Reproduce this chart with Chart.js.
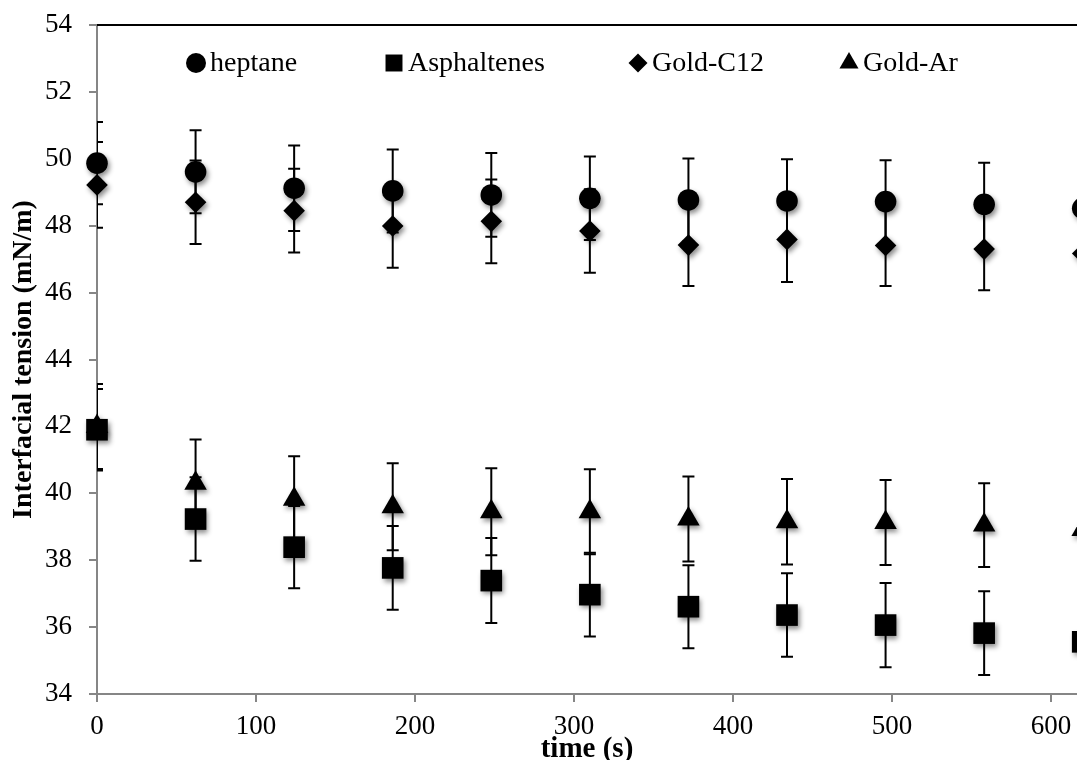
<!DOCTYPE html>
<html>
<head>
<meta charset="utf-8">
<script src="https://cdn.jsdelivr.net/npm/chart.js@4/dist/chart.umd.min.js"></script>
<style>
  html, body { margin: 0; padding: 0; background: #fff; overflow: hidden; }
</style>
</head>
<body>
<canvas id="iftChart" width="1077" height="760"></canvas>
<script>
// time points (s)
const times = [0, 62, 124, 186, 248, 310, 372, 434, 496, 558, 620];

// interfacial tension (mN/m) and standard deviations
const heptane = [49.87, 49.61, 49.12, 49.04, 48.92, 48.82, 48.77, 48.74, 48.72, 48.64, 48.52];
const heptaneErr = [1.23, 1.24, 1.28, 1.24, 1.25, 1.25, 1.24, 1.25, 1.24, 1.24, 1.24];

const asphaltenes = [41.9, 39.23, 38.39, 37.77, 37.39, 36.97, 36.61, 36.36, 36.06, 35.82, 35.56];
const asphaltenesErr = [1.22, 1.25, 1.23, 1.25, 1.27, 1.25, 1.24, 1.25, 1.26, 1.25, 1.25];

const goldC12 = [49.22, 48.70, 48.45, 47.99, 48.13, 47.84, 47.42, 47.59, 47.41, 47.30, 47.17];
const goldC12Err = [1.28, 1.25, 1.25, 1.25, 1.25, 1.25, 1.22, 1.27, 1.21, 1.23, 1.23];

const goldAr = [42.0, 40.30, 39.82, 39.60, 39.45, 39.45, 39.23, 39.15, 39.13, 39.05, 38.92];
const goldArErr = [1.27, 1.31, 1.29, 1.30, 1.30, 1.27, 1.27, 1.28, 1.27, 1.25, 1.25];

const seriesLabels = ['heptane', 'Asphaltenes', 'Gold-C12', 'Gold-Ar'];
const yTicks = [34, 36, 38, 40, 42, 44, 46, 48, 50, 52, 54];

const FONT = "'Liberation Serif', 'Times New Roman', serif";
const AXIS_GREY = '#868686';

const toPoints = vals => times.map((t, i) => ({ x: t, y: vals[i] }));

// error bars, drawn under the markers
const errorBars = {
    id: 'errorBars',
    beforeDatasetsDraw(chart) {
        const { ctx, chartArea, scales: { x, y } } = chart;
        ctx.save();
        ctx.beginPath();
        ctx.rect(chartArea.left, 0, chartArea.right - chartArea.left - 2, chart.height);
        ctx.clip();
        ctx.strokeStyle = '#000';
        ctx.lineWidth = 2;
        chart.data.datasets.forEach(ds => {
            ds.data.forEach((p, i) => {
                const e = ds.errors[i];
                const px = x.getPixelForValue(p.x);
                const top = y.getPixelForValue(p.y + e);
                const bot = y.getPixelForValue(p.y - e);
                ctx.beginPath();
                ctx.moveTo(px, top); ctx.lineTo(px, bot);
                ctx.moveTo(px - 6, top); ctx.lineTo(px + 6, top);
                ctx.moveTo(px - 6, bot); ctx.lineTo(px + 6, bot);
                ctx.stroke();
            });
        });
        ctx.restore();

        // soft drop shadow on the markers (like the original)
        ctx.save();
        ctx.shadowColor = 'rgba(0,0,0,0.45)';
        ctx.shadowBlur = 5;
        ctx.shadowOffsetX = 2;
        ctx.shadowOffsetY = 3;
    },
    afterDatasetsDraw(chart) {
        chart.ctx.restore();
    }
};

// top frame line + legend inside the plot
const frameAndLegend = {
    id: 'frameAndLegend',
    afterDraw(chart) {
        const { ctx, chartArea } = chart;
        ctx.save();
        ctx.strokeStyle = '#000';
        ctx.lineWidth = 2;
        ctx.beginPath();
        ctx.moveTo(chartArea.left, chartArea.top);
        ctx.lineTo(chartArea.right, chartArea.top);
        ctx.stroke();

        const offsets = [99, 297, 541, 752];
        const legendY = chartArea.top + 38;
        ctx.font = '28px ' + FONT;
        ctx.textBaseline = 'middle';
        ctx.fillStyle = '#000';
        chart.data.datasets.forEach((ds, i) => {
            const cx = chartArea.left + offsets[i];
            if (Chart.helpers && Chart.helpers.drawPoint) {
                Chart.helpers.drawPoint(ctx, {
                    pointStyle: ds.pointStyle,
                    radius: ds.legendRadius,
                    rotation: 0,
                    borderWidth: 0
                }, cx, legendY);
            }
            ctx.fillText(ds.label, cx + 14, legendY + 1);
        });
        ctx.restore();
    }
};

const ctx = document.getElementById('iftChart').getContext('2d');
new Chart(ctx, {
    type: 'scatter',
    data: {
        datasets: [
            { label: seriesLabels[0], data: toPoints(heptane), errors: heptaneErr,
              pointStyle: 'circle', pointRadius: 10.8, legendRadius: 10 },
            { label: seriesLabels[1], data: toPoints(asphaltenes), errors: asphaltenesErr,
              pointStyle: 'rect', pointRadius: 15.3, legendRadius: 12 },
            { label: seriesLabels[2], data: toPoints(goldC12), errors: goldC12Err,
              pointStyle: 'rectRot', pointRadius: 10.8, legendRadius: 9.5 },
            { label: seriesLabels[3], data: toPoints(goldAr), errors: goldArErr,
              pointStyle: 'triangle', pointRadius: 13, legendRadius: 11 }
        ].map(ds => Object.assign(ds, {
            backgroundColor: '#000',
            borderColor: '#000',
            pointBorderWidth: 0,
            pointHoverRadius: ds.pointRadius,
            showLine: false,
            clip: false
        }))
    },
    plugins: [errorBars, frameAndLegend],
    options: {
        responsive: false,
        animation: false,
        layout: { autoPadding: false, padding: { top: 25, left: 0, right: 0, bottom: 0 } },
        plugins: {
            legend: { display: false },
            tooltip: { enabled: false }
        },
        scales: {
            x: {
                type: 'linear',
                position: 'bottom',
                min: 0,
                max: 616.4,
                ticks: {
                    stepSize: 100,
                    includeBounds: false,
                    color: '#000',
                    padding: 9,
                    font: { family: FONT, size: 27 }
                },
                grid: { drawOnChartArea: false, drawTicks: true, tickLength: 8, color: AXIS_GREY, lineWidth: 2 },
                border: { color: AXIS_GREY, width: 2 },
                title: {
                    display: true,
                    text: 'time (s)',
                    color: '#000',
                    font: { family: FONT, size: 29, weight: 'bold', lineHeight: 1 },
                    padding: { top: 0, bottom: -4 }
                },
                afterFit: scale => {
                    scale.height = 66;
                    scale.paddingLeft = 0;
                    scale.paddingRight = 0;
                }
            },
            y: {
                min: 34,
                max: 54,
                afterBuildTicks: axis => { axis.ticks = yTicks.map(v => ({ value: v })); },
                ticks: {
                    color: '#000',
                    padding: 17,
                    font: { family: FONT, size: 27 }
                },
                grid: { drawOnChartArea: false, drawTicks: true, tickLength: 8, color: AXIS_GREY, lineWidth: 2 },
                border: { color: AXIS_GREY, width: 2 },
                title: {
                    display: true,
                    text: 'Interfacial tension (mN/m)',
                    color: '#000',
                    font: { family: FONT, size: 28, weight: 'bold', lineHeight: 1 },
                    padding: { top: 10, bottom: 0 }
                },
                afterFit: scale => {
                    scale.width = 97;
                    scale.paddingTop = 0;
                    scale.paddingBottom = 0;
                }
            }
        }
    }
});
</script>
</body>
</html>
